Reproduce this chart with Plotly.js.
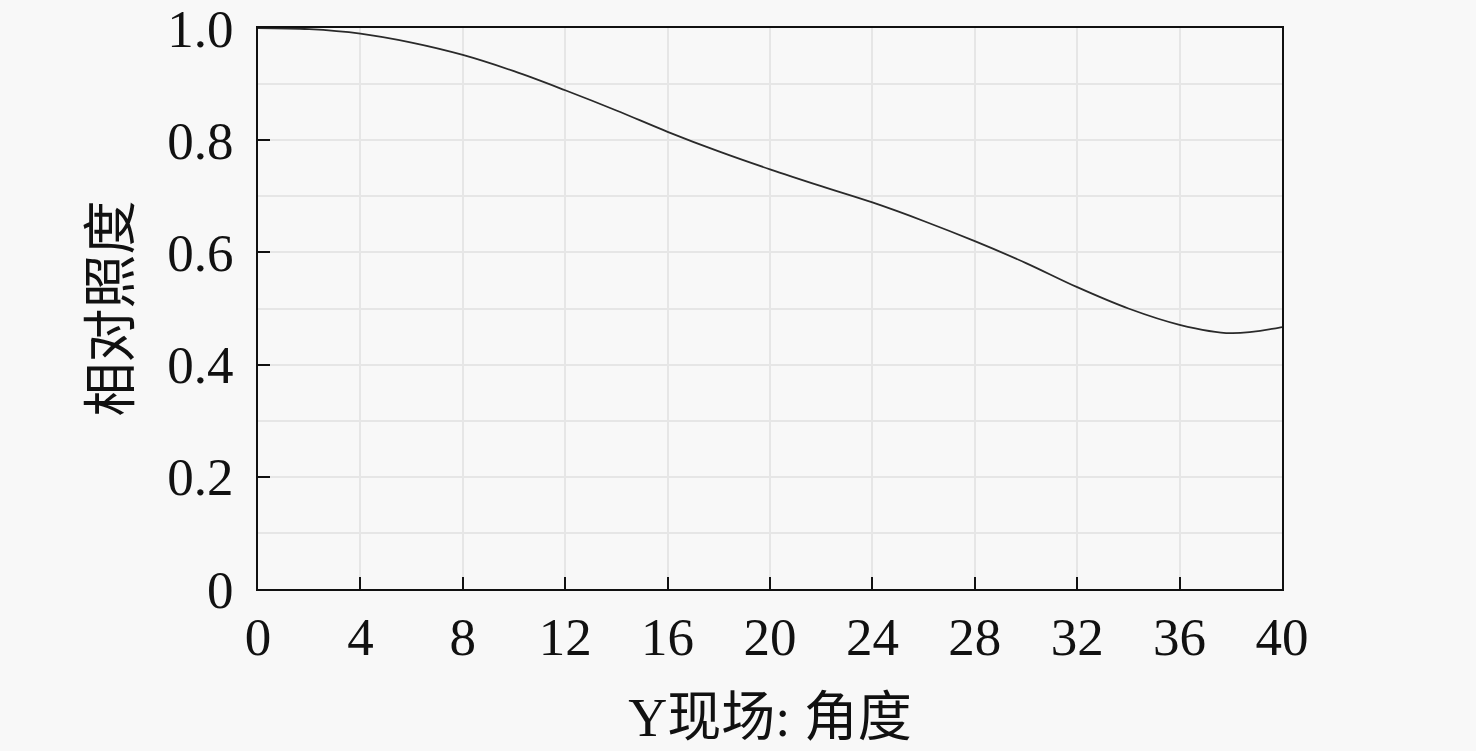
<!DOCTYPE html>
<html>
<head>
<meta charset="utf-8">
<script src="https://cdn.plot.ly/plotly-3.0.1.min.js"></script>
<style>html,body{margin:0;padding:0;background:#f8f8f8;}#chart{width:1476px;height:751px;}</style>
</head>
<body>
<div id="chart"></div>
<script>
const angle = [0, 2, 4, 6, 8, 10, 12, 14, 16, 18, 20, 22, 24, 26, 28, 30, 32, 34, 36, 38, 40];
const relIllum = [1.000, 0.998, 0.990, 0.974, 0.952, 0.923, 0.889, 0.853, 0.815, 0.780, 0.748, 0.718, 0.689, 0.656, 0.620, 0.581, 0.538, 0.500, 0.471, 0.456, 0.467];
const yTickVals = [0, 0.2, 0.4, 0.6, 0.8, 1.0];
const yTickText = ["0", "0.2", "0.4", "0.6", "0.8", "1.0"];
const xTitle = "Y现场: 角度";
const yTitle = "相对照度";

const fontFam = '"Liberation Serif", "Times New Roman", "Noto Sans CJK SC", serif';

Plotly.newPlot('chart', [{
  x: angle, y: relIllum, type: 'scatter', mode: 'lines',
  line: {color: '#2a2a2a', width: 1.8, shape: 'spline', smoothing: 1},
  hoverinfo: 'skip'
}], {
  width: 1476, height: 751,
  paper_bgcolor: '#f8f8f8', plot_bgcolor: '#f8f8f8',
  margin: {l: 258, r: 194, t: 28, b: 162},
  showlegend: false,
  font: {family: fontFam, color: '#111111', size: 53},
  xaxis: {
    range: [0, 40], dtick: 4, tick0: 0,
    showline: true, linecolor: '#111111', linewidth: 2, mirror: true,
    ticks: 'inside', ticklen: 12, tickwidth: 2, tickcolor: '#111111',
    ticklabeloverflow: 'allow',
    showgrid: true, gridcolor: '#e6e6e6', gridwidth: 2,
    zeroline: false,
    tickfont: {family: fontFam, size: 53, color: '#111111'},
    title: {text: xTitle, font: {family: fontFam, size: 54, color: '#111111'}, standoff: 34}
  },
  yaxis: {
    range: [0, 1.0],
    tickmode: 'array', tickvals: yTickVals, ticktext: yTickText,
    showline: true, linecolor: '#111111', linewidth: 2, mirror: true,
    ticks: 'inside', ticklen: 12, tickwidth: 2, tickcolor: '#111111',
    ticklabelstandoff: 12, ticklabeloverflow: 'allow',
    showgrid: true, gridcolor: '#e6e6e6', gridwidth: 2,
    minor: {dtick: 0.1, showgrid: true, gridcolor: '#e6e6e6', gridwidth: 2},
    zeroline: false,
    tickfont: {family: fontFam, size: 53, color: '#111111'},
    title: {text: yTitle, font: {family: fontFam, size: 54, color: '#111111'}, standoff: 19}
  }
}, {displayModeBar: false, staticPlot: true});
</script>
</body>
</html>
